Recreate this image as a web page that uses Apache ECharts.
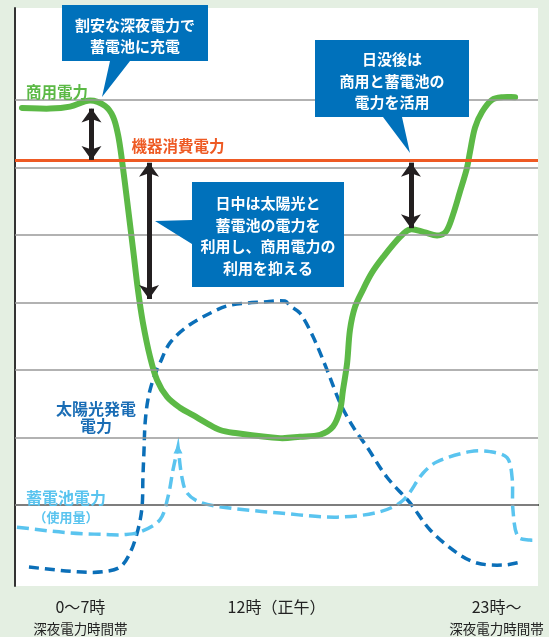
<!DOCTYPE html>
<html><head><meta charset="utf-8">
<script src="https://cdn.jsdelivr.net/npm/echarts@6/dist/echarts.min.js"></script>
<style>html,body{margin:0;padding:0;background:#e4efe2;}#c{width:549px;height:637px;}</style>
</head><body><div id="c"></div>
<script>
// x: hour-like position (0..24), y: relative power level (gridlines at 0..6)
const xTickValues = [3, 12, 22.1];
const xTickLabels = ['{a|0～7時}\n{b|深夜電力時間帯}', '{a|12時（正午）}', '{a|23時～}\n{b|深夜電力時間帯}'];

const commercialX = [0.32, 1.61, 2.52, 3.44, 4.13, 4.50, 4.73, 4.91, 5.14, 5.42, 5.64, 5.87, 6.20, 6.52, 6.98, 7.57, 8.17, 8.81, 9.41, 10.0, 12.16, 13.08, 14.00, 14.59, 14.92, 15.05, 15.24, 15.37, 15.60, 15.97, 16.38, 16.89, 17.67, 18.13, 18.77, 19.37, 19.78, 20.10, 20.42, 20.74, 20.88, 21.11, 21.43, 21.89, 22.40, 22.95];
const commercialY = [5.88, 5.87, 5.90, 5.99, 5.91, 5.75, 5.48, 5.10, 4.52, 3.78, 3.19, 2.70, 2.19, 1.85, 1.60, 1.44, 1.33, 1.21, 1.11, 1.07, 0.99, 1.01, 1.04, 1.16, 1.41, 1.70, 2.10, 2.59, 2.93, 3.19, 3.44, 3.67, 3.97, 4.08, 4.04, 3.99, 4.05, 4.30, 4.64, 4.99, 5.23, 5.59, 5.82, 6.00, 6.04, 6.04];

const solarX = [0.64, 2.85, 4.04, 4.82, 5.28, 5.64, 5.83, 5.87, 5.92, 5.97, 6.10, 6.33, 6.65, 7.11, 7.89, 8.95, 9.87, 11.57, 12.39, 12.62, 13.08, 13.68, 14.32, 14.92, 15.51, 16.15, 17.07, 18.13, 19.05, 20.28, 21.20, 22.40, 23.31];
const solarY = [-0.92, -0.99, -0.99, -0.92, -0.71, -0.37, -0.03, 0.41, 0.81, 1.21, 1.56, 1.85, 2.10, 2.40, 2.64, 2.84, 2.96, 3.01, 3.02, 2.95, 2.84, 2.49, 2.00, 1.51, 1.16, 0.86, 0.41, 0.03, -0.37, -0.71, -0.86, -0.89, -0.84];

const batteryX = [0.09, 2.39, 4.36, 4.96, 5.74, 6.65, 7.02, 7.25, 7.48, 7.66, 7.89, 8.49, 9.73, 12.16, 14.78, 16.75, 17.81, 18.72, 19.37, 20.88, 21.80, 22.58, 22.81, 22.85, 23.08, 23.63, 23.96];
const batteryY = [-0.33, -0.41, -0.44, -0.44, -0.40, -0.22, 0.12, 0.52, 0.86, 0.41, 0.18, 0.04, -0.04, -0.12, -0.18, -0.10, 0.07, 0.47, 0.64, 0.79, 0.79, 0.70, 0.41, -0.07, -0.47, -0.52, -0.52];
const batteryPeakIndex = 8;

const gridLevels = [0, 1, 2, 3, 4, 5, 6];
const deviceLoad = 5.10;

const arrowX = [3.51, 6.15, 18.17];
const arrowTop = [5.87, 5.07, 5.07];
const arrowBottom = [5.11, 3.05, 4.10];

function pairs(xs, ys) { return xs.map((x, i) => [x, ys[i]]); }

// smooth curve through the pixel points produced by the axes (chord-length Catmull-Rom)
function splinePath(p) {
  const n = p.length, d = [];
  for (let i = 0; i < n - 1; i++) d.push(Math.hypot(p[i + 1][0] - p[i][0], p[i + 1][1] - p[i][1]) || 1e-6);
  const mIn = [], mOut = [];
  for (let i = 0; i < n; i++) {
    if (i === 0) { const m = [(p[1][0] - p[0][0]) / d[0], (p[1][1] - p[0][1]) / d[0]]; mIn.push(m); mOut.push(m); continue; }
    if (i === n - 1) { const m = [(p[i][0] - p[i - 1][0]) / d[i - 1], (p[i][1] - p[i - 1][1]) / d[i - 1]]; mIn.push(m); mOut.push(m); continue; }
    const a = [(p[i][0] - p[i - 1][0]) / d[i - 1], (p[i][1] - p[i - 1][1]) / d[i - 1]];
    const b = [(p[i + 1][0] - p[i][0]) / d[i], (p[i + 1][1] - p[i][1]) / d[i]];
    if (a[0] * b[0] + a[1] * b[1] < -0.5) { mIn.push(a); mOut.push(b); continue; }
    const s = d[i - 1] + d[i];
    const m = [(p[i + 1][0] - p[i - 1][0]) / s, (p[i + 1][1] - p[i - 1][1]) / s];
    mIn.push(m); mOut.push(m);
  }
  let path = 'M' + p[0][0] + ' ' + p[0][1];
  for (let i = 0; i < n - 1; i++) {
    const k = d[i] / 3;
    path += ' C' + (p[i][0] + mOut[i][0] * k) + ' ' + (p[i][1] + mOut[i][1] * k) + ' ' +
      (p[i + 1][0] - mIn[i + 1][0] * k) + ' ' + (p[i + 1][1] - mIn[i + 1][1] * k) + ' ' + p[i + 1][0] + ' ' + p[i + 1][1];
  }
  return path;
}

function curveSeries(name, xs, ys, z, lineStyle) {
  return {
    name: name, type: 'custom', z: z, silent: true,
    data: pairs(xs, ys), encode: { x: 0, y: 1 },
    renderItem: function (params, api) {
      if (params.dataIndex !== 0) return null;
      const pts = xs.map((x, i) => api.coord([x, ys[i]]));
      return { type: 'path', shape: { pathData: splinePath(pts) }, style: Object.assign({ fill: null }, lineStyle) };
    }
  };
}

const FONT = '"Noto Sans CJK JP", "Noto Sans", sans-serif';
const chart = echarts.init(document.getElementById('c'));

function callout(points, cx, cy, text) {
  return [
    { type: 'polygon', shape: { points: points }, style: { fill: '#0071bb' }, z: 100 },
    { type: 'text', x: cx, y: cy, z: 101, style: { text: text, fill: '#ffffff', font: 'bold 15px ' + FONT, align: 'center', verticalAlign: 'middle', lineHeight: 21.5 } }
  ];
}
function label(x, y, text, color, size) {
  return { type: 'text', x: x, y: y, z: 50, style: { text: text, fill: color, font: 'bold ' + size + 'px ' + FONT, align: 'center', verticalAlign: 'middle', lineHeight: 17 } };
}

const batterySeries = curveSeries('蓄電池電力', batteryX, batteryY, 3, { stroke: '#5ac4ef', lineWidth: 3.5, lineDash: [12, 6] });
batterySeries.markPoint = {
  silent: true, symbol: 'triangle', symbolSize: [9, 9], symbolOffset: [0, 2], label: { show: false },
  itemStyle: { color: '#5ac4ef' }, animation: false,
  data: [{ coord: [batteryX[batteryPeakIndex], batteryY[batteryPeakIndex]] }]
};

const option = {
  backgroundColor: '#e4efe2',
  animation: false,
  grid: { left: 15, right: 11, top: 8, bottom: 51, show: true, backgroundColor: '#ffffff', borderWidth: 0 },
  xAxis: {
    type: 'value', min: 0, max: 24,
    axisLine: { show: true, lineStyle: { color: '#333', width: 2 } },
    axisTick: { show: false }, splitLine: { show: false },
    axisLabel: {
      customValues: xTickValues, margin: 10, verticalAlign: 'top',
      formatter: function (v) { const i = xTickValues.indexOf(v); return i >= 0 ? xTickLabels[i] : ''; },
      rich: {
        a: { fontFamily: FONT, fontSize: 16, color: '#222', lineHeight: 22 },
        b: { fontFamily: FONT, fontSize: 13.5, color: '#222', lineHeight: 21 }
      }
    }
  },
  yAxis: {
    type: 'value', min: -1.2, max: 7.36,
    axisLine: { show: true, lineStyle: { color: '#333', width: 2 } },
    axisTick: { show: false }, axisLabel: { show: false }, splitLine: { show: false }
  },
  series: [
    {
      type: 'line', data: [], silent: true, z: 1,
      markLine: {
        silent: true, symbol: 'none', label: { show: false }, animation: false,
        lineStyle: { color: '#999', width: 1.5, type: 'solid' },
        data: gridLevels.map(v => ({ yAxis: v }))
      }
    },
    {
      type: 'line', data: [], silent: true, z: 2,
      markLine: {
        silent: true, symbol: 'none', label: { show: false }, animation: false,
        lineStyle: { color: '#ee5a24', width: 3, type: 'solid' },
        data: [{ yAxis: deviceLoad }]
      }
    },
    curveSeries('太陽光発電電力', solarX, solarY, 3, { stroke: '#0b6fb8', lineWidth: 3.5, lineDash: [10, 6] }),
    batterySeries,
    curveSeries('商用電力', commercialX, commercialY, 4, { stroke: '#5cb946', lineWidth: 6, lineCap: 'round', lineJoin: 'round' }),
    {
      type: 'line', data: [], silent: true, z: 5,
      markLine: {
        silent: true, symbol: ['arrow', 'arrow'], symbolSize: [15, 14], label: { show: false }, animation: false,
        lineStyle: { color: '#231f20', width: 5, type: 'solid' },
        data: arrowX.map((x, i) => [{ coord: [x, arrowTop[i]] }, { coord: [x, arrowBottom[i]] }])
      }
    }
  ],
  graphic: [
    label(57, 92, '商用電力', '#5cb946', 15.5),
    label(178, 146, '機器消費電力', '#ee5a24', 15.5),
    label(96, 417, '太陽光発電\n電力', '#1a6db5', 16),
    label(66, 498, '蓄電池電力', '#5ac4ef', 16),
    { type: 'text', x: 66, y: 517, z: 50, style: { text: '（使用量）', fill: '#5ac4ef', font: 'bold 13px ' + FONT, align: 'center', verticalAlign: 'middle' } },
    ...callout([[62, 5], [208, 5], [208, 61], [130, 61], [102, 97], [110, 61], [62, 61]], 135, 36, '割安な深夜電力で\n蓄電池に充電'),
    ...callout([[315, 40], [469, 40], [469, 117], [402, 117], [410, 153], [383, 117], [315, 117]], 392, 81, '日没後は\n商用と蓄電池の\n電力を活用'),
    ...callout([[192, 182], [344, 182], [344, 287], [192, 287], [192, 244], [155, 221], [192, 220]], 268, 236, '日中は太陽光と\n蓄電池の電力を\n利用し、商用電力の\n利用を抑える')
  ]
};
chart.setOption(option);
</script>
</body></html>
